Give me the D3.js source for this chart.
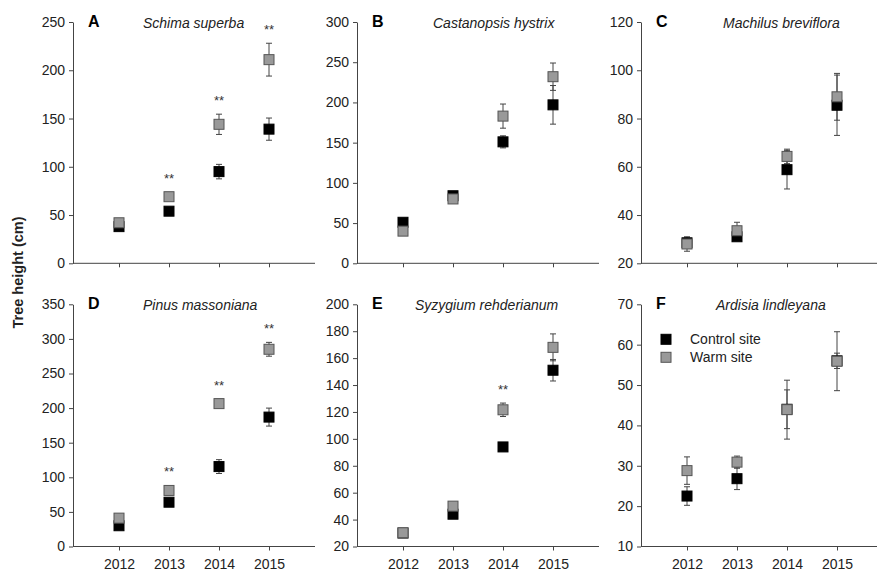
<!DOCTYPE html>
<html lang="en">
<head>
    <meta charset="UTF-8">
    <title>Tree height</title>
    <script src="https://d3js.org/d3.v7.min.js"></script>
    <style>
        body { margin: 0; background: #fff; }
        svg { font-family: "Liberation Sans", Arial, sans-serif; }
    </style>
</head>
<body>
<svg id="chart"></svg>
<script>
    // data
    var years = ["2012", "2013", "2014", "2015"];
    var letters = ["A", "B", "C", "D", "E", "F"];
    var species = ["Schima superba", "Castanopsis hystrix", "Machilus breviflora",
                   "Pinus massoniana", "Syzygium rehderianum", "Ardisia lindleyana"];
    var yDomains = [[0, 250], [0, 300], [20, 120], [0, 350], [20, 200], [10, 70]];
    var yTickSteps = [50, 50, 20, 50, 20, 10];

    var controlMean = [[38, 54, 95, 139], [51, 84, 151, 197], [28.5, 31, 58.8, 85.5],
                       [30, 64, 115.5, 187], [30, 44, 94, 151], [22.5, 26.8, 44, 56]];
    var controlSE = [[2, 2, 7.5, 11.5], [2, 2, 7.5, 24], [2, 1.5, 8, 12.5],
                     [2, 2, 10, 13], [1.5, 2, 2, 8], [2.3, 2.7, 4.8, 1.9]];
    var warmMean = [[42, 69, 144, 211], [40, 80, 183, 232], [28, 33.5, 64.3, 89],
                    [41, 81, 206.5, 285], [30.2, 50, 121.6, 168], [28.8, 30.9, 43.9, 55.9]];
    var warmSE = [[2, 2, 10.5, 17], [2, 2, 15, 17], [3, 3.5, 3, 9.7],
                  [2, 2, 4, 10], [2, 2, 5, 10], [3.4, 1.5, 7.3, 7.3]];
    var signif = [["", "**", "**", "**"], ["", "", "", ""], ["", "", "", ""],
                  ["", "**", "**", "**"], ["", "", "**", ""], ["", "", "", ""]];

    var legendLabels = ["Control site", "Warm site"];

    // layout
    var width = 877, height = 575;
    var colX = [73, 357, 641];
    var rowY = [[22, 263.3], [304.3, 546.5]];
    var plotW = 242;
    var titleOffset = [70, 76, 82, 70, 58, 75];
    var axisColor = "#444";
    var textColor = "#222";
    var ms = 10; // marker size

    var svg = d3.select("#chart").attr("width", width).attr("height", height);

    svg.append("text")
        .attr("transform", "translate(23,272.5) rotate(-90)")
        .attr("text-anchor", "middle")
        .attr("font-size", 14.5)
        .attr("font-weight", "bold")
        .attr("fill", textColor)
        .text("Tree height (cm)");

    for (var p = 0; p < 6; p++) {
        drawPanel(p);
    }

    function drawPanel(p) {
        var row = Math.floor(p / 3), col = p % 3;
        var x0 = colX[col], top = rowY[row][0], bottom = rowY[row][1];

        var x = d3.scalePoint().domain(years).range([x0, x0 + plotW]).padding(0.92);
        var y = d3.scaleLinear().domain(yDomains[p]).range([bottom, top]);

        var g = svg.append("g");

        var yTicks = d3.range(yDomains[p][0], yDomains[p][1] + 0.001, yTickSteps[p]);
        var yAxis = g.append("g")
            .attr("transform", "translate(" + x0 + ",0)")
            .call(d3.axisLeft(y).tickValues(yTicks).tickSize(4).tickSizeOuter(0).tickPadding(4));
        var xAxis = g.append("g")
            .attr("transform", "translate(0," + bottom + ")")
            .call(d3.axisBottom(x).tickSize(4).tickSizeOuter(0).tickPadding(9));
        // x axis line runs from the y axis to the panel edge
        xAxis.select(".domain").attr("d", "M" + x0 + ",0H" + (x0 + plotW));
        if (row === 0) xAxis.selectAll(".tick text").remove();

        [yAxis, xAxis].forEach(function(a) {
            a.select(".domain").attr("stroke", axisColor);
            a.selectAll(".tick line").attr("stroke", axisColor);
            a.selectAll(".tick text").attr("font-size", 14).attr("fill", textColor)
                .attr("font-family", "'Liberation Sans', Arial, sans-serif");
        });

        // letter and species name
        g.append("text")
            .attr("x", x0 + 15).attr("y", top + 4.5)
            .attr("font-size", 16).attr("font-weight", "bold").attr("fill", "#000")
            .text(letters[p]);
        g.append("text")
            .attr("x", x0 + titleOffset[p]).attr("y", top + 6)
            .attr("font-size", 14).attr("font-style", "italic").attr("fill", textColor)
            .text(species[p]);

        var series = [
            {mean: controlMean[p], se: controlSE[p], fill: "#000", stroke: "#000"},
            {mean: warmMean[p], se: warmSE[p], fill: "#999", stroke: "#555"}
        ];

        // error bars behind the markers
        series.forEach(function(s) {
            var eb = g.append("g").selectAll("g")
                .data(years.map(function(yr, i) { return {yr: yr, m: s.mean[i], e: s.se[i]}; }))
                .enter().append("g")
                .attr("stroke", "#444").attr("stroke-width", 1);
            eb.append("line")
                .attr("x1", function(d) { return x(d.yr); })
                .attr("x2", function(d) { return x(d.yr); })
                .attr("y1", function(d) { return y(d.m + d.e); })
                .attr("y2", function(d) { return y(d.m - d.e); });
            [1, -1].forEach(function(sign) {
                eb.append("line")
                    .attr("x1", function(d) { return x(d.yr) - 3; })
                    .attr("x2", function(d) { return x(d.yr) + 3; })
                    .attr("y1", function(d) { return y(d.m + sign * d.e); })
                    .attr("y2", function(d) { return y(d.m + sign * d.e); });
            });
        });

        series.forEach(function(s) {
            g.append("g").selectAll("rect")
                .data(s.mean)
                .enter().append("rect")
                .attr("x", function(d, i) { return x(years[i]) - ms / 2; })
                .attr("y", function(d) { return y(d) - ms / 2; })
                .attr("width", ms).attr("height", ms)
                .attr("fill", s.fill).attr("stroke", s.stroke).attr("stroke-width", 1);
        });

        // significance marks above the warm site
        var marks = years.map(function(yr, i) {
            return {yr: yr, label: signif[p][i], top: warmMean[p][i] + warmSE[p][i], m: warmMean[p][i]};
        }).filter(function(d) { return d.label !== ""; });
        g.append("g").selectAll("text")
            .data(marks)
            .enter().append("text")
            .attr("x", function(d) { return x(d.yr); })
            .attr("y", function(d) { return Math.min(y(d.top), y(d.m) - ms / 2) - 9; })
            .attr("text-anchor", "middle")
            .attr("font-size", 13).attr("fill", "#333")
            .text(function(d) { return d.label; });

        if (p === 5) {
            var lg = g.append("g").attr("transform", "translate(" + (x0 + 25) + "," + (top + 35) + ")");
            legendLabels.forEach(function(lab, i) {
                lg.append("rect")
                    .attr("x", -ms / 2).attr("y", i * 18 - ms / 2)
                    .attr("width", ms).attr("height", ms)
                    .attr("fill", series[i].fill).attr("stroke", series[i].stroke);
                lg.append("text")
                    .attr("x", 24).attr("y", i * 18 + 5)
                    .attr("font-size", 14).attr("fill", textColor)
                    .text(lab);
            });
        }
    }
</script>
</body>
</html>
